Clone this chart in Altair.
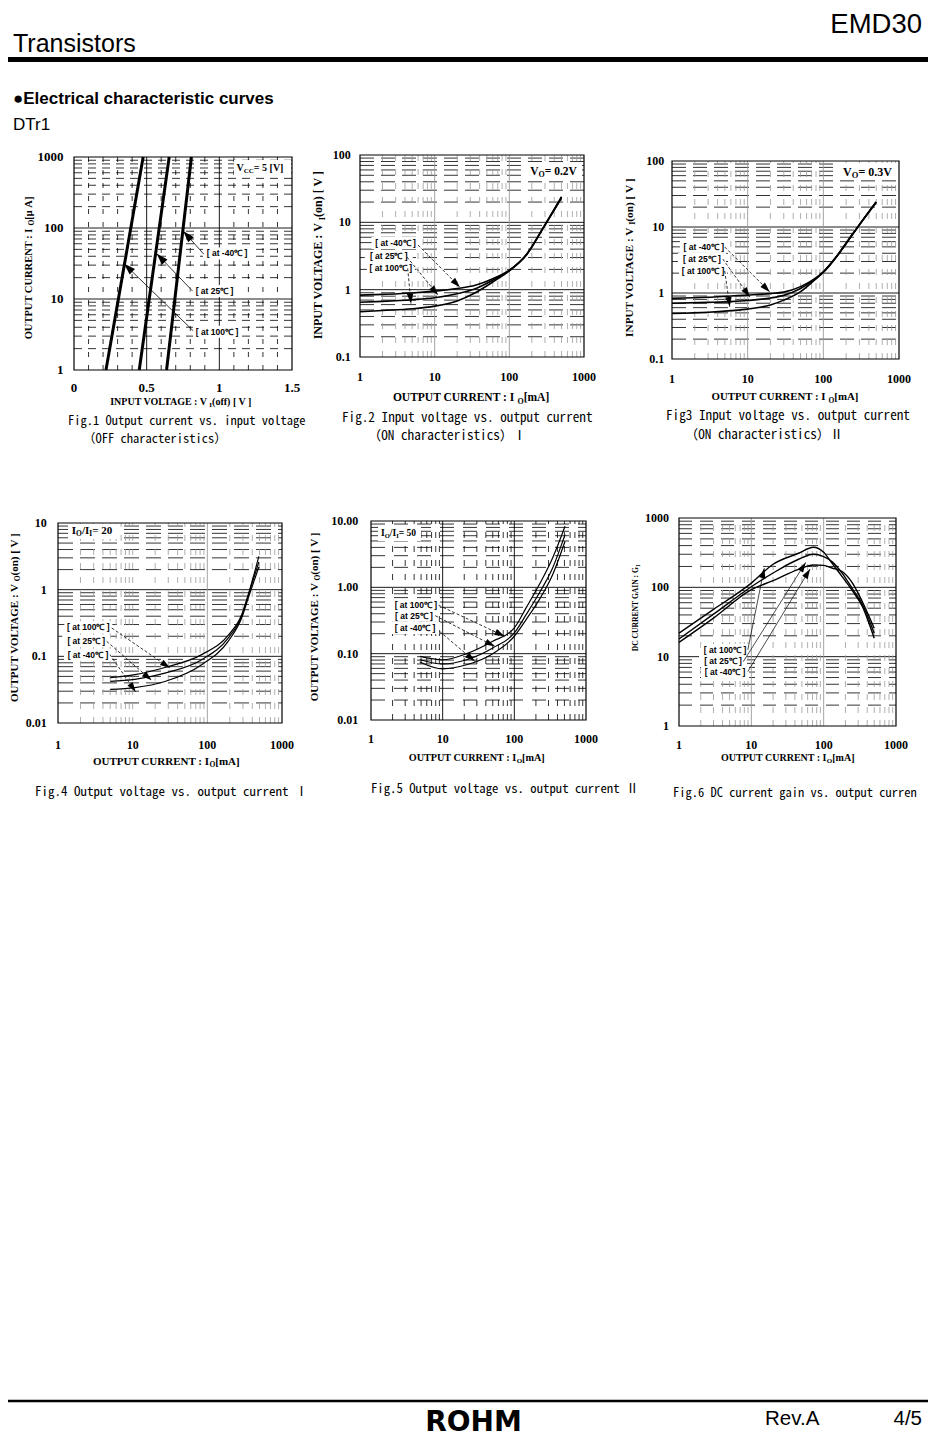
import math
import altair as alt
import pandas as pd

# ============================ DATA ============================
LBL_M40, LBL_25, LBL_100 = "[ at -40℃ ]", "[ at 25℃ ]", "[ at 100℃ ]"
DEC_LABELS = ["1", "10", "100", "1000"]
DEC_TICKS = [1, 10, 100, 1000]

# Fig.1  Output current vs. input voltage (OFF characteristics)
F1_IO_UA = [1, 1000]
F1_VI_M40 = [0.637, 0.808]
F1_VI_25 = [0.449, 0.655]
F1_VI_100 = [0.22, 0.476]
F1_X_TICKS = [0, 0.5, 1, 1.5]
F1_X_LABELS = ["0", "0.5", "1", "1.5"]
F1_Y_TICKS = DEC_TICKS
F1_Y_LABELS = DEC_LABELS
F1_LABEL_TEXT = [LBL_M40, LBL_25, LBL_100]
F1_LABEL_X = [1.053, 0.967, 0.984]
F1_LABEL_Y = [43.8, 13.0, 3.46]
F1_ARROW_X1 = [0.893, 0.815, 0.82]
F1_ARROW_Y1 = [42.8, 13.0, 3.57]
F1_ARROW_X2 = [0.751, 0.568, 0.343]
F1_ARROW_Y2 = [91, 43.7, 31.6]

# Fig.2  Input voltage vs. output current (ON) I
F2_IO = [1, 2, 5, 10, 20, 35, 60, 100, 170, 280, 500]
F2_VI_M40 = [0.83, 0.85, 0.89, 0.95, 1.04, 1.16, 1.45, 1.95, 3.35, 8.1, 24]
F2_VI_25 = [0.65, 0.67, 0.71, 0.76, 0.87, 1.03, 1.38, 1.92, 3.3, 8.0, 23.5]
F2_VI_100 = [0.47, 0.49, 0.52, 0.57, 0.68, 0.9, 1.3, 1.9, 3.3, 8.0, 23]
F2_X_TICKS = DEC_TICKS
F2_X_LABELS = DEC_LABELS
F2_Y_TICKS = [0.1, 1, 10, 100]
F2_Y_LABELS = ["0.1", "1", "10", "100"]
F2_LABEL_TEXT = [LBL_M40, LBL_25, LBL_100]
F2_LABEL_X = [2.99, 2.43, 2.59]
F2_LABEL_Y = [4.92, 3.15, 2.07]
F2_ARROW_X1 = [5.98, 4.26, 4.35]
F2_ARROW_Y1 = [4.6, 3.05, 2.07]
F2_ARROW_X2 = [21.8, 11.1, 4.82]
F2_ARROW_Y2 = [1.09, 0.83, 0.62]

# Fig.3  Input voltage vs. output current (ON) II
F3_IO = [1, 3, 6, 10, 20, 30, 50, 77, 100, 150, 213, 290, 500]
F3_VI_M40 = [0.83, 0.86, 0.9, 0.93, 0.98, 1.03, 1.25, 1.65, 2.1, 3.6, 6.3, 10.3, 24]
F3_VI_25 = [0.70, 0.72, 0.74, 0.77, 0.84, 0.92, 1.17, 1.62, 2.08, 3.6, 6.3, 10.3, 24]
F3_VI_100 = [0.49, 0.51, 0.54, 0.57, 0.66, 0.78, 1.05, 1.58, 2.05, 3.55, 6.2, 10.2, 23.5]
F3_X_TICKS = DEC_TICKS
F3_X_LABELS = DEC_LABELS
F3_Y_TICKS = [0.1, 1, 10, 100]
F3_Y_LABELS = ["0.1", "1", "10", "100"]
F3_LABEL_TEXT = [LBL_M40, LBL_25, LBL_100]
F3_LABEL_X = [2.64, 2.49, 2.57]
F3_LABEL_Y = [5.02, 3.27, 2.18]
F3_ARROW_X1 = [4.98, 4.69, 4.98]
F3_ARROW_Y1 = [4.97, 3.27, 2.16]
F3_ARROW_X2 = [19.6, 10.7, 5.8]
F3_ARROW_Y2 = [1.04, 0.873, 0.617]

# Fig.4  Output voltage vs. output current I (Io/Ii = 20)
F4_IO = [5, 10.7, 27, 84, 190, 288, 353, 490]
F4_VO_100 = [0.048, 0.053, 0.068, 0.106, 0.206, 0.42, 0.84, 3.16]
F4_VO_25 = [0.042, 0.045, 0.056, 0.089, 0.188, 0.40, 0.82, 2.6]
F4_VO_M40 = [0.032, 0.034, 0.042, 0.075, 0.168, 0.375, 0.75, 2.2]
F4_X_TICKS = DEC_TICKS
F4_X_LABELS = DEC_LABELS
F4_Y_TICKS = [0.01, 0.1, 1, 10]
F4_Y_LABELS = ["0.01", "0.1", "1", "10"]
F4_LABEL_TEXT = [LBL_100, LBL_25, LBL_M40]
F4_LABEL_X = [2.55, 2.39, 2.52]
F4_LABEL_Y = [0.272, 0.171, 0.106]
F4_ARROW_X1 = [5.24, 4.48, 4.97]
F4_ARROW_Y1 = [0.266, 0.168, 0.106]
F4_ARROW_X2 = [31.6, 17.9, 11.0]
F4_ARROW_Y2 = [0.0668, 0.0437, 0.0292]

# Fig.5  Output voltage vs. output current II (Io/Ii = 50)
F5_IO = [4.8, 10, 21.6, 50, 100, 146, 223, 342, 510]
F5_VO_100 = [0.091, 0.081, 0.10, 0.154, 0.244, 0.49, 1.1, 2.77, 8.35]
F5_VO_25 = [0.081, 0.070, 0.081, 0.122, 0.205, 0.387, 0.82, 1.96, 6.24]
F5_VO_M40 = [0.075, 0.059, 0.068, 0.10, 0.183, 0.326, 0.653, 1.55, 4.96]
F5_X_TICKS = DEC_TICKS
F5_X_LABELS = DEC_LABELS
F5_Y_TICKS = [0.01, 0.1, 1, 10]
F5_Y_LABELS = ["0.01", "0.10", "1.00", "10.00"]
F5_LABEL_TEXT = [LBL_100, LBL_25, LBL_M40]
F5_LABEL_X = [4.23, 3.97, 4.12]
F5_LABEL_Y = [0.537, 0.374, 0.244]
F5_ARROW_X1 = [8.77, 7.87, 9.06]
F5_ARROW_Y1 = [0.537, 0.374, 0.217]
F5_ARROW_X2 = [73.1, 53.2, 28.1]
F5_ARROW_Y2 = [0.183, 0.129, 0.0767]

# Fig.6  DC current gain vs. output current
F6_IO = [1, 3, 10, 20, 45, 72, 100, 130, 180, 250, 340, 500]
F6_GI_100 = [21.8, 48, 115, 215, 310, 379, 321, 223, 143, 89, 54, 18.4]
F6_GI_25 = [18, 41, 102, 161, 254, 300, 277, 235, 160, 95, 58, 21.8]
F6_GI_M40 = [16.1, 36, 92.7, 125, 182, 210, 207, 190, 169, 115, 63, 25.7]
F6_X_TICKS = DEC_TICKS
F6_X_LABELS = DEC_LABELS
F6_Y_TICKS = DEC_TICKS
F6_Y_LABELS = DEC_LABELS
F6_LABEL_TEXT = [LBL_100, LBL_25, LBL_M40]
F6_LABEL_X = [4.33, 4.06, 4.33]
F6_LABEL_Y = [12.5, 8.67, 6.0]
F6_ARROW_X1 = [8.93, 7.74, 8.93]
F6_ARROW_Y1 = [12.5, 8.47, 6.08]
F6_ARROW_X2 = [15.1, 56.5, 64.9]
F6_ARROW_Y2 = [189, 229, 184]

# ============================ STYLE ============================
SERIF = "Liberation Serif"
SANS = "Liberation Sans"
CAPF = "Noto Sans Mono CJK JP, Noto Sans CJK JP"
TRI = "M0,0L-0.32,1L0.32,1Z"
BOX = "M-1,-0.25H1V0.25H-1Z"
GRAY = "#9a9a9a"
ONE = pd.DataFrame({"a": [0]})

# Times/Liberation Serif Bold advance widths (em) used to centre composed titles
CW = {" ": .25, "(": .333, ")": .333, ".": .25, "/": .278, ":": .333, "=": .57,
      "[": .333, "]": .333, "μ": .556, "A": .722, "C": .722, "D": .722, "E": .667,
      "G": .778, "I": .389, "L": .667, "N": .722, "O": .778, "P": .611, "R": .722,
      "T": .667, "U": .722, "V": .722, "f": .333, "m": .833, "n": .556, "o": .5}


def tw(s, fs):
    return sum(CW.get(ch, 0.5) for ch in s) * fs


def txt(t, x, y, **kw):
    return alt.Chart(pd.DataFrame({"t": [t]})).mark_text(color="black", **kw).encode(
        x=alt.value(x), y=alt.value(y), text="t:N")


def seg_text(segs, cx, cy, angle=0):
    """segments: (text, size, subscript shift); centred at (cx, cy)."""
    total = sum(tw(t, fs) for t, fs, _ in segs)
    pos = -total / 2
    out = []
    for t, fs, sh in segs:
        if angle == 0:
            x, y = cx + pos, cy + sh
        else:
            x, y = cx + sh, cy - pos
        out.append(txt(t, x, y, font=SERIF, fontSize=fs, fontWeight="bold",
                       align="left", baseline="middle", angle=angle))
        pos += tw(t, fs)
    return out


def white_box(x0, x1, y0, y1):
    return alt.Chart(ONE).mark_rect(color="white").encode(
        x=alt.value(x0), x2=alt.value(x1), y=alt.value(y0), y2=alt.value(y1))


def logmult(exps):
    return [m * 10.0 ** e for e in exps for m in range(2, 10)]


def figure(c):
    (x0, x1), (yb, yt) = c["xr"], c["yr"]
    xkw = dict(type=c["xtype"], domain=c["xdom"], range=[x0, x1], nice=False)
    ykw = dict(type=c["ytype"], domain=c["ydom"], range=[yb, yt], nice=False)
    if c["xtype"] == "linear":
        xkw["zero"] = False
    xs, ys = alt.Scale(**xkw), alt.Scale(**ykw)

    def frac(v, d, t):
        if t == "log":
            return (math.log10(v) - math.log10(d[0])) / (math.log10(d[1]) - math.log10(d[0]))
        return (v - d[0]) / (d[1] - d[0])

    def to_px(x, y):
        return (x0 + frac(x, c["xdom"], c["xtype"]) * (x1 - x0),
                yb + frac(y, c["ydom"], c["ytype"]) * (yt - yb))

    def X(f):
        return alt.X(f, type="quantitative", scale=xs, axis=None)

    def Y(f):
        return alt.Y(f, type="quantitative", scale=ys, axis=None)

    xa, xb = c["xdom"]
    ya, yb_ = c["ydom"]
    layers = []
    for g in c["grids"]:
        kw = {"color": g["color"], "strokeWidth": g["width"]}
        if "dash" in g:
            kw["strokeDash"] = g["dash"]
        n = len(g["values"])
        if g["dir"] == "h":
            df = pd.DataFrame({"v": g["values"], "a": [xa] * n, "b": [xb] * n})
            layers.append(alt.Chart(df).mark_rule(**kw).encode(
                y=Y("v"), x=X("a"), x2=alt.X2("b:Q")))
        else:
            df = pd.DataFrame({"v": g["values"], "a": [ya] * n, "b": [yb_] * n})
            layers.append(alt.Chart(df).mark_rule(**kw).encode(
                x=X("v"), y=Y("a"), y2=alt.Y2("b:Q")))

    # white boxes behind the temperature labels
    lt, lx, ly = c["labels"]
    layers.append(alt.Chart(pd.DataFrame({"x": lx, "y": ly, "s": [c["lbox"] ** 2] * len(lx)})).mark_point(
        shape=BOX, filled=True, color="white", opacity=1, strokeWidth=0).encode(
        x=X("x"), y=Y("y"), size=alt.Size("s:Q", scale=None)))
    if c.get("note_box"):
        layers.append(white_box(*c["note_box"]))

    # curves
    rows = []
    for k, (sx, sy) in enumerate(c["series"]):
        for xv, yv in zip(sx, sy):
            rows.append({"x": xv, "y": yv, "s": k})
    layers.append(alt.Chart(pd.DataFrame(rows)).mark_line(
        color="black", strokeWidth=c["lw"], interpolate=c["interp"]).encode(
        x=X("x"), y=Y("y"), detail="s:N"))

    # arrows
    ax1, ay1, ax2, ay2 = c["arrows"]
    angs = []
    for a, b, p, q in zip(ax1, ay1, ax2, ay2):
        pa, pb = to_px(a, b), to_px(p, q)
        angs.append(math.degrees(math.atan2(pb[0] - pa[0], -(pb[1] - pa[1]))) % 360)
    dfa = pd.DataFrame({"x1": ax1, "y1": ay1, "x2": ax2, "y2": ay2, "a": angs})
    rk = {"color": "black", "strokeWidth": c["aw"]}
    if c.get("adash"):
        rk["strokeDash"] = c["adash"]
    layers.append(alt.Chart(dfa).mark_rule(**rk).encode(
        x=X("x1"), y=Y("y1"), x2=alt.X2("x2:Q"), y2=alt.Y2("y2:Q")))
    layers.append(alt.Chart(dfa).mark_point(
        shape=TRI, filled=True, color="black", opacity=1, strokeWidth=0, size=c["head"]).encode(
        x=X("x2"), y=Y("y2"), angle=alt.Angle("a:Q", scale=None)))

    # temperature labels
    layers.append(alt.Chart(pd.DataFrame({"t": lt, "x": lx, "y": ly})).mark_text(
        font=SANS, fontSize=8.5, fontWeight="bold", align="center", baseline="middle",
        color="black").encode(x=X("x"), y=Y("y"), text="t:N"))

    # tick labels
    xt, xl = c["xticks"]
    yt_, yl = c["yticks"]
    layers.append(alt.Chart(pd.DataFrame({"v": xt, "t": xl, "e": [ya] * len(xt)})).mark_text(
        font=SERIF, fontWeight="bold", fontSize=c["tfs"], align="center", baseline="middle",
        dy=c["xl_dy"], color="black").encode(x=X("v"), y=Y("e"), text="t:N"))
    layers.append(alt.Chart(pd.DataFrame({"v": yt_, "t": yl, "e": [xa] * len(yt_)})).mark_text(
        font=SERIF, fontWeight="bold", fontSize=c["tfs"], align="right", baseline="middle",
        dx=c["yl_dx"], color="black").encode(y=Y("v"), x=X("e"), text="t:N"))

    # frame
    layers.append(alt.Chart(pd.DataFrame({"a": [xa], "b": [xb], "c": [ya], "d": [yb_]})).mark_rect(
        filled=False, color="black", strokeWidth=1.2).encode(
        x=X("a"), x2=alt.X2("b:Q"), y=Y("c"), y2=alt.Y2("d:Q")))

    # titles, condition note, captions
    layers += seg_text(c["ytitle"], *c["ytitle_at"], angle=270)
    layers += seg_text(c["xtitle"], *c["xtitle_at"])
    if c.get("note"):
        layers += seg_text(c["note"], *c["note_at"])
    for t, cx, cy, fs in c["captions"]:
        layers.append(txt(t, cx, cy, font=CAPF, fontSize=fs, align="left", baseline="middle"))
    return layers


def grids(hmaj, hmin, vmaj, vmin, vcol, hdash, vdash):
    return [
        {"dir": "h", "values": hmaj, "color": "black", "width": 0.9},
        {"dir": "h", "values": hmin, "color": "black", "width": 0.8, "dash": hdash},
        {"dir": "v", "values": vmaj, "color": vcol, "width": 0.9},
        {"dir": "v", "values": vmin, "color": vcol, "width": 0.8, "dash": vdash},
    ]


LOGX = dict(xtype="log", xdom=[1, 1000])

fig1 = figure(dict(
    xr=[66, 284], yr=[362, 149], xtype="linear", xdom=[0, 1.5], ytype="log", ydom=[1, 1000],
    xticks=(F1_X_TICKS, F1_X_LABELS), yticks=(F1_Y_TICKS, F1_Y_LABELS),
    tfs=13, xl_dy=18, yl_dx=-10.5,
    grids=grids([10, 100], logmult([0, 1, 2]), [0.5, 1.0],
                [0.1, 0.2, 0.3, 0.4, 0.6, 0.7, 0.8, 0.9, 1.1, 1.2, 1.3, 1.4],
                "black", [8, 6], [5, 8]),
    series=[(F1_VI_M40, F1_IO_UA), (F1_VI_25, F1_IO_UA), (F1_VI_100, F1_IO_UA)],
    lw=3, interp="linear",
    labels=(F1_LABEL_TEXT, F1_LABEL_X, F1_LABEL_Y), lbox=48,
    arrows=(F1_ARROW_X1, F1_ARROW_Y1, F1_ARROW_X2, F1_ARROW_Y2), aw=0.8, head=560,
    ytitle=[("OUTPUT CURRENT :  I", 10.5, 0), ("O", 7.5, 3), (" [μ A]", 10.5, 0)],
    ytitle_at=(20.5, 258.7),
    xtitle=[("INPUT VOLTAGE : V", 10, 0), ("I", 7, 3), ("(off) [ V ]", 10, 0)],
    xtitle_at=(173, 393.7),
    note=[("V", 10, 0), ("CC", 7, 3), ("  = 5 [V]", 10, 0)], note_at=(254.5, 160),
    note_box=(226, 283, 152, 168),
    captions=[("Fig.1  Output current vs. input voltage", 60, 413, 12.5),
              ("（OFF characteristics）", 75, 431, 12.5)],
))

fig2 = figure(dict(
    xr=[352, 576], yr=[349, 147], ytype="log", ydom=[0.1, 100], **LOGX,
    xticks=(F2_X_TICKS, F2_X_LABELS), yticks=(F2_Y_TICKS, F2_Y_LABELS),
    tfs=12, xl_dy=19.5, yl_dx=-9.3,
    grids=grids([1, 10], logmult([-1, 0, 1]), [10, 100], logmult([0, 1, 2]),
                GRAY, [14, 7], [6, 8]),
    series=[(F2_IO, F2_VI_M40), (F2_IO, F2_VI_25), (F2_IO, F2_VI_100)],
    lw=1.6, interp="monotone",
    labels=(F2_LABEL_TEXT, F2_LABEL_X, F2_LABEL_Y), lbox=48,
    arrows=(F2_ARROW_X1, F2_ARROW_Y1, F2_ARROW_X2, F2_ARROW_Y2), aw=0.8, adash=[3, 2], head=400,
    ytitle=[("INPUT VOLTAGE : V", 12, 0), ("I", 8.5, 3.5), ("(on) [ V ]", 12, 0)],
    ytitle_at=(310.3, 247),
    xtitle=[("OUTPUT CURRENT :  I", 11.5, 0), ("O", 8, 3.5), (" [mA]", 11.5, 0)],
    xtitle_at=(464.5, 390.3),
    note=[("V", 11.5, 0), ("O", 8, 3.5), (" = 0.2V", 11.5, 0)], note_at=(547, 163.7),
    note_box=(519, 574, 155, 172),
    captions=[("Fig.2  Input voltage vs. output current", 334, 410, 13.2),
              ("（ON characteristics）Ⅰ", 360, 428, 13.2)],
))

fig3 = figure(dict(
    xr=[664, 891], yr=[351, 153], ytype="log", ydom=[0.1, 100], **LOGX,
    xticks=(F3_X_TICKS, F3_X_LABELS), yticks=(F3_Y_TICKS, F3_Y_LABELS),
    tfs=12, xl_dy=20, yl_dx=-7.7,
    grids=grids([1, 10], logmult([-1, 0, 1]), [10, 100], logmult([0, 1, 2]),
                GRAY, [14, 7], [6, 8]),
    series=[(F3_IO, F3_VI_M40), (F3_IO, F3_VI_25), (F3_IO, F3_VI_100)],
    lw=1.6, interp="monotone",
    labels=(F3_LABEL_TEXT, F3_LABEL_X, F3_LABEL_Y), lbox=48,
    arrows=(F3_ARROW_X1, F3_ARROW_Y1, F3_ARROW_X2, F3_ARROW_Y2), aw=0.8, adash=[3, 2], head=400,
    ytitle=[("INPUT VOLTAGE : V", 11.3, 0), ("I", 8, 3.3), ("(on) [ V ]", 11.3, 0)],
    ytitle_at=(622, 249.5),
    xtitle=[("OUTPUT CURRENT :  I", 10.8, 0), ("O", 7.5, 3.3), (" [mA]", 10.8, 0)],
    xtitle_at=(778.3, 389.3),
    note=[("V", 12, 0), ("O", 8.5, 3.5), (" = 0.3V", 12, 0)], note_at=(861, 163.7),
    note_box=(832, 889, 155, 172),
    captions=[("Fig3  Input voltage vs. output current", 658, 408, 13.2),
              ("（ON characteristics）Ⅱ", 677, 427, 13.2)],
))

fig4 = figure(dict(
    xr=[50, 274], yr=[715, 515], ytype="log", ydom=[0.01, 10], **LOGX,
    xticks=(F4_X_TICKS, F4_X_LABELS), yticks=(F4_Y_TICKS, F4_Y_LABELS),
    tfs=12, xl_dy=22, yl_dx=-11.3,
    grids=grids([0.1, 1], logmult([-2, -1, 0]), [100], logmult([0, 1, 2]) + [10],
                GRAY, [15, 7], [6, 8]),
    series=[(F4_IO, F4_VO_100), (F4_IO, F4_VO_25), (F4_IO, F4_VO_M40)],
    lw=1.2, interp="monotone",
    labels=(F4_LABEL_TEXT, F4_LABEL_X, F4_LABEL_Y), lbox=48,
    arrows=(F4_ARROW_X1, F4_ARROW_Y1, F4_ARROW_X2, F4_ARROW_Y2), aw=0.8, adash=[3, 2], head=400,
    ytitle=[("OUTPUT VOLTAGE : V", 11, 0), ("O", 7.5, 3), ("(on) [ V ]", 11, 0)],
    ytitle_at=(6.5, 609.5),
    xtitle=[("OUTPUT CURRENT : I", 11, 0), ("O", 7.5, 3), (" [mA]", 11, 0)],
    xtitle_at=(159.7, 753.7),
    note=[("I", 11, 0), ("O", 7.5, 3), ("/I", 11, 0), ("I", 7.5, 3), (" = 20", 11, 0)],
    note_at=(85.4, 523.3), note_box=(60, 110, 516, 531),
    captions=[("Fig.4  Output voltage vs. output current   Ⅰ", 27, 784, 13)],
))

fig5 = figure(dict(
    xr=[363, 578], yr=[712, 513], ytype="log", ydom=[0.01, 10], **LOGX,
    xticks=(F5_X_TICKS, F5_X_LABELS), yticks=(F5_Y_TICKS, F5_Y_LABELS),
    tfs=12, xl_dy=19.3, yl_dx=-12.7,
    grids=grids([0.1, 1], logmult([-2, -1, 0]), [10, 100], logmult([0, 1, 2]),
                "black", [14, 9], [6, 8]),
    series=[(F5_IO, F5_VO_100), (F5_IO, F5_VO_25), (F5_IO, F5_VO_M40)],
    lw=1.2, interp="monotone",
    labels=(F5_LABEL_TEXT, F5_LABEL_X, F5_LABEL_Y), lbox=48,
    arrows=(F5_ARROW_X1, F5_ARROW_Y1, F5_ARROW_X2, F5_ARROW_Y2), aw=0.8, adash=[3, 2], head=400,
    ytitle=[("OUTPUT VOLTAGE : V", 11, 0), ("O", 7.5, 3), ("(on) [ V ]", 11, 0)],
    ytitle_at=(307, 608.7),
    xtitle=[("OUTPUT CURRENT : I", 10.2, 0), ("O", 7, 3), (" [mA]", 10.2, 0)],
    xtitle_at=(470, 750.3),
    note=[("I", 9.5, 0), ("O", 6.5, 2.6), ("/I", 9.5, 0), ("I", 6.5, 2.6), (" = 50", 9.5, 0)],
    note_at=(391.7, 525), note_box=(370, 413, 518, 533),
    captions=[("Fig.5 Output voltage vs. output current Ⅱ", 363, 781, 12.75)],
))

fig6 = figure(dict(
    xr=[671, 888], yr=[718, 510], ytype="log", ydom=[1, 1000], **LOGX,
    xticks=(F6_X_TICKS, F6_X_LABELS), yticks=(F6_Y_TICKS, F6_Y_LABELS),
    tfs=12, xl_dy=19, yl_dx=-10,
    grids=grids([10, 100], logmult([0, 1, 2]), [10, 100], logmult([0, 1, 2]),
                GRAY, [13, 8], [6, 7]),
    series=[(F6_IO, F6_GI_100), (F6_IO, F6_GI_25), (F6_IO, F6_GI_M40)],
    lw=1.4, interp="monotone",
    labels=(F6_LABEL_TEXT, F6_LABEL_X, F6_LABEL_Y), lbox=48,
    arrows=(F6_ARROW_X1, F6_ARROW_Y1, F6_ARROW_X2, F6_ARROW_Y2), aw=0.7, head=400,
    ytitle=[("DC CURRENT GAIN : G", 7.6, 0), ("I", 5.5, 2)], ytitle_at=(627.7, 600),
    xtitle=[("OUTPUT CURRENT : I", 10, 0), ("O", 7, 3), (" [mA]", 10, 0)],
    xtitle_at=(781, 749.7),
    captions=[("Fig.6  DC current gain vs. output curren", 665, 785, 12.5)],
))

page = [
    txt("EMD30", 914, 25, font=SANS, fontSize=27.5, align="right", baseline="alphabetic"),
    txt("Transistors", 5, 43.5, font=SANS, fontSize=25, align="left", baseline="alphabetic"),
    alt.Chart(ONE).mark_rule(color="black", strokeWidth=5).encode(
        x=alt.value(0), x2=alt.value(920), y=alt.value(51.5)),
    txt("●Electrical characteristic curves", 5, 96, font=SANS, fontSize=17,
        fontWeight="bold", align="left", baseline="alphabetic"),
    txt("DTr1", 5, 122, font=SANS, fontSize=17, align="left", baseline="alphabetic"),
    alt.Chart(ONE).mark_rule(color="black", strokeWidth=2.5).encode(
        x=alt.value(0), x2=alt.value(920), y=alt.value(1393)),
    txt("Rev.A", 757, 1417, font=SANS, fontSize=20.5, align="left", baseline="alphabetic"),
    txt("4/5", 914, 1417, font=SANS, fontSize=20.5, align="right", baseline="alphabetic"),
    txt("ROHM", 465.5, 1423, font="DejaVu Sans", fontSize=28, fontWeight="bold",
        align="center", baseline="alphabetic"),
]

chart = alt.layer(*(page + fig1 + fig2 + fig3 + fig4 + fig5 + fig6)).resolve_scale(
    x="independent", y="independent"
).properties(
    width=920, height=1430, padding=0, autosize=alt.AutoSizeParams(type="none")
).configure(background="white", view=alt.ViewConfig(stroke=None))

chart.save("out.html", embed_options={"renderer": "svg", "actions": False})
